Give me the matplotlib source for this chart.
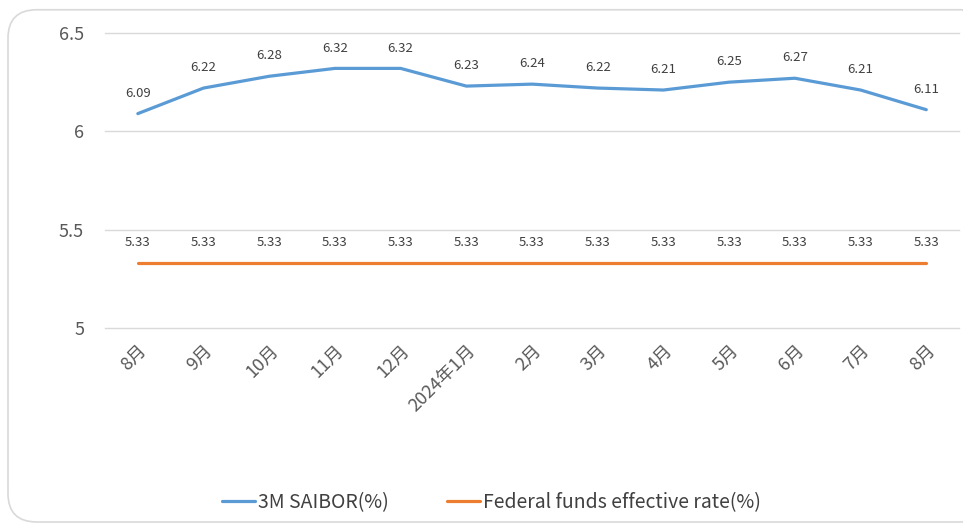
import numpy as np
import matplotlib
matplotlib.use('Agg')
import matplotlib.pyplot as plt
from matplotlib.patches import FancyBboxPatch

plt.rcParams['font.family'] = ['Noto Sans CJK SC', 'DejaVu Sans']

months = ['8月', '9月', '10月', '11月', '12月', '2024年1月', '2月', '3月', '4月',
          '5月', '6月', '7月', '8月']
saibor = [6.09, 6.22, 6.28, 6.32, 6.32, 6.23, 6.24, 6.22, 6.21, 6.25, 6.27, 6.21, 6.11]
fed_rate = [5.33] * 13
labels = ['3M SAIBOR(%)', 'Federal funds effective rate(%)']

fig = plt.figure(figsize=(9.63, 5.27), dpi=100)
fig.patch.set_facecolor('white')

# rounded chart frame like the Excel chart area
frame = FancyBboxPatch((0.0083, 0.0095), 1.02, 0.972,
                       boxstyle='round,pad=0,rounding_size=0.03',
                       transform=fig.transFigure, facecolor='none',
                       edgecolor='#D9D9D9', linewidth=1.2, mutation_aspect=1.8)
fig.patches.append(frame)

ax = fig.add_axes([0.109, 0.3776, 0.887, 0.5598])
index = np.arange(len(months))

colors = ['#5B9BD5', '#ED7D31']
for count, item in enumerate([saibor, fed_rate]):
    ax.plot(index, item, color=colors[count], linewidth=2.3,
            solid_capstyle='round', label=labels[count], zorder=3)
    for x, y in zip(index, item):
        ax.annotate('%.2f' % y, (x, y), xytext=(0, 10), textcoords='offset points',
                    ha='center', va='bottom', fontsize=9.5, color='#404040')

ax.set_xlim(-0.5, len(months) - 0.5)
ax.set_ylim(5, 6.5)
ax.set_yticks([5, 5.5, 6, 6.5])
ax.set_yticklabels(['5', '5.5', '6', '6.5'])
ax.yaxis.grid(True, color='#D9D9D9', linewidth=1)
for gl in ax.get_ygridlines():
    gl.set_clip_on(False)
ax.set_axisbelow(True)
for s in ax.spines.values():
    s.set_visible(False)
ax.tick_params(axis='y', length=0, pad=15, labelsize=13, labelcolor='#595959')
ax.set_xticks(index)
ax.set_xticklabels(months, rotation=45, ha='right', rotation_mode='anchor')
ax.tick_params(axis='x', length=0, pad=10, labelsize=13, labelcolor='#595959')

fig.legend(loc='center', bbox_to_anchor=(0.51, 0.047), ncol=2, frameon=False,
           fontsize=14, handlelength=1.7, handletextpad=0.15, columnspacing=3.0,
           labelcolor='#404040')

fig.savefig('out.png', dpi=100)
